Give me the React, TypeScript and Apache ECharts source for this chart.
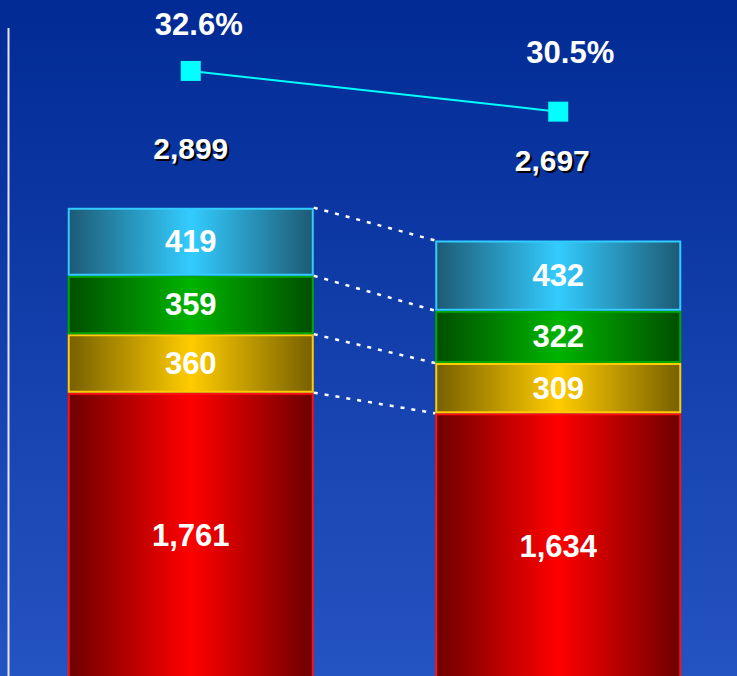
import React, { useEffect, useRef } from "react";
import * as echarts from "echarts";

const categories = ["Period 1", "Period 2"];
const redValues = [1761, 1634];
const yellowValues = [360, 309];
const greenValues = [359, 322];
const blueValues = [419, 432];
const ratioValues = [32.6, 30.5];

const FONT = "'Liberation Sans', Arial, sans-serif";
const BAR_W = 246;

function grad(dark: string, bright: string) {
  return new echarts.graphic.LinearGradient(0, 0, 1, 0, [
    { offset: 0, color: dark },
    { offset: 0.5, color: bright },
    { offset: 1, color: dark },
  ]);
}

export default function App() {
  const ref = useRef<HTMLDivElement>(null);
  useEffect(() => {
    if (!ref.current) return;
    document.body.style.overflow = "hidden";
    const chart = echarts.init(ref.current, null, { renderer: "svg" });
    const fmt = (v: number) => v.toLocaleString("en-US");
    const totals = categories.map(
      (_, i) => redValues[i] + yellowValues[i] + greenValues[i] + blueValues[i]
    );
    const layers = [redValues, yellowValues, greenValues, blueValues];
    const boundaries: number[][] = [];
    let c1 = 0;
    let c2 = 0;
    layers.forEach((l) => {
      c1 += l[0];
      c2 += l[1];
      boundaries.push([0, c1, c2]);
    });
    const segLabel = {
      show: true,
      position: "inside",
      color: "#fff",
      fontSize: 31,
      fontWeight: "bold",
      fontFamily: FONT,
      formatter: (p: any) => fmt(p.value),
    };
    const mkBar = (name: string, data: number[], dark: string, bright: string, border: string) => ({
      name,
      type: "bar",
      stack: "total",
      barWidth: BAR_W,
      data,
      itemStyle: { color: grad(dark, bright), borderColor: border, borderWidth: 2 },
      label: segLabel,
      z: 2,
    });
    const totalOffsets = [
      [0, -59],
      [-6, -80],
    ];
    const ratioOffsets = [
      [8, -46],
      [12, -59],
    ];
    const totalLabel = (color: string, dx: number) => ({
      show: true,
      position: "inside",
      color,
      fontSize: 30,
      fontWeight: "bold",
      fontFamily: FONT,
      formatter: (p: any) => fmt(p.value[1]),
    });
    chart.setOption({
      animation: false,
      backgroundColor: new echarts.graphic.LinearGradient(0, 0, 0, 1, [
        { offset: 0, color: "#012a94" },
        { offset: 1, color: "#2454c2" },
      ]),
      grid: { left: 7, right: 0, top: 0, bottom: 0 },
      xAxis: { type: "category", data: categories, show: false },
      yAxis: [
        { type: "value", min: 0, max: 4176, show: false },
        { type: "value", min: 1.23, max: 36.26, show: false },
      ],
      graphic: [
        {
          type: "line",
          shape: { x1: 8.5, y1: 28, x2: 8.5, y2: 679 },
          style: { stroke: "#e6e6f5", lineWidth: 2 },
          z: 10,
        },
      ],
      series: [
        mkBar("A", redValues, "#6e0000", "#ff0000", "#ff1010"),
        mkBar("B", yellowValues, "#776000", "#ffcc00", "#ffcc00"),
        mkBar("C", greenValues, "#004f00", "#00b400", "#00a800"),
        mkBar("D", blueValues, "#1d5a74", "#33ccff", "#33ccff"),
        {
          type: "custom",
          yAxisIndex: 0,
          data: boundaries,
          z: 3,
          silent: true,
          renderItem: (_p: any, api: any) => {
            const a = api.coord([0, api.value(1)]);
            const b = api.coord([1, api.value(2)]);
            return {
              type: "line",
              shape: { x1: a[0] + BAR_W / 2, y1: a[1], x2: b[0] - BAR_W / 2, y2: b[1] },
              style: { stroke: "#ffffff", lineWidth: 2.5, lineDash: [4, 7] },
            };
          },
        },
        {
          type: "scatter",
          yAxisIndex: 0,
          symbolSize: 0,
          z: 4,
          itemStyle: { opacity: 1 },
          data: totals.map((t, i) => ({
            value: [i, t],
            label: { offset: [totalOffsets[i][0] + 2, totalOffsets[i][1] + 2] },
          })),
          label: totalLabel("#000000", 2),
        },
        {
          type: "scatter",
          yAxisIndex: 0,
          symbolSize: 0,
          z: 5,
          itemStyle: { opacity: 1 },
          data: totals.map((t, i) => ({
            value: [i, t],
            label: { offset: totalOffsets[i] },
          })),
          label: totalLabel("#ffffff", 0),
        },
        {
          type: "line",
          yAxisIndex: 1,
          z: 6,
          symbol: "rect",
          symbolSize: 20,
          lineStyle: { color: "#00ffff", width: 2 },
          itemStyle: { color: "#00ffff" },
          data: ratioValues.map((v, i) => ({
            value: v,
            label: { offset: ratioOffsets[i] },
          })),
          label: {
            show: true,
            position: "inside",
            color: "#fff",
            fontSize: 31,
            fontWeight: "bold",
            fontFamily: FONT,
            formatter: (p: any) => p.value.toFixed(1) + "%",
          },
        },
      ],
    });
    return () => chart.dispose();
  }, []);
  return (
    <div
      ref={ref}
      style={{ position: "fixed", left: 0, top: 0, width: 742, height: 679 }}
    />
  );
}
